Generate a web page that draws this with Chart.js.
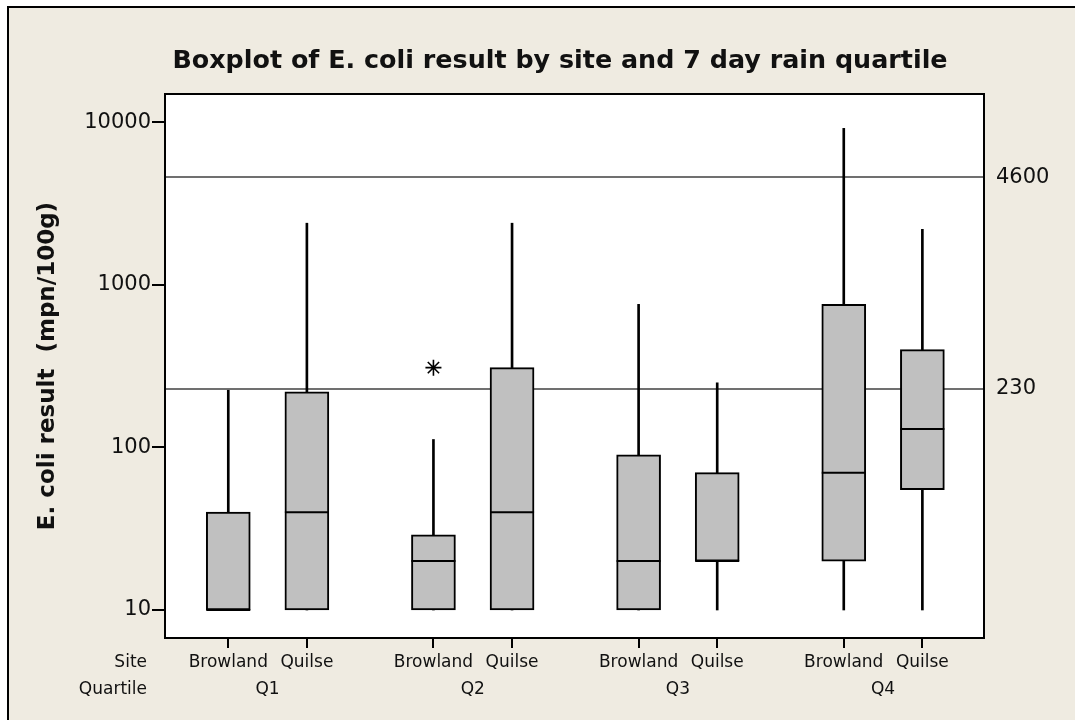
<!DOCTYPE html>
<html>
<head>
<meta charset="utf-8">
<script src="https://cdn.jsdelivr.net/npm/chart.js@4/dist/chart.umd.min.js"></script>
<style>
  html, body { margin: 0; padding: 0; background: #ffffff; }
  #wrap { width: 1075px; height: 720px; position: relative; }
  canvas { display: block; }
</style>
</head>
<body>
<div id="wrap"><canvas id="c" width="1075" height="720"></canvas></div>
<script>
// ---------------- data ----------------
const chartTitle = 'Boxplot of E. coli result by site and 7 day rain quartile';
const yAxisTitle = 'E. coli result  (mpn/100g)';
const quartiles = ['Q1', 'Q2', 'Q3', 'Q4'];
const sites = ['Browland', 'Quilse'];
const rowLabels = ['Site', 'Quartile'];

// one entry per box: Q1 Browland, Q1 Quilse, Q2 Browland, Q2 Quilse, ...
const whiskerLow  = [10, 10, 10, 10, 10, 10, 10, 10];
const quartile1   = [10, 10, 10, 10, 10, 20, 20, 55];
const medians     = [10, 40, 20, 40, 20, 20, 70, 130];
const quartile3   = [40, 220, 29, 310, 90, 70, 760, 400];
const whiskerHigh = [225, 2400, 112, 2400, 760, 250, 9200, 2200];

const outlierBox    = [2];     // index of the box the outlier belongs to
const outlierValues = [310];

const refLines = [4600, 230];
const yTicks = [10, 100, 1000, 10000];

// ---------------- layout constants ----------------
const GROUP_STEP = 2.61;
const X_MIN = 0.195, X_MAX = 10.614;
const Y_MIN = 6.725, Y_MAX = 14970;

const pos = [];
const siteTickLabels = [];
quartiles.forEach((q, g) => sites.forEach((s, i) => { pos.push(1 + g * GROUP_STEP + i); siteTickLabels.push(s); }));
const groupCenters = quartiles.map((q, g) => 1.5 + g * GROUP_STEP);

Chart.defaults.font.family = '"DejaVu Sans", sans-serif';
Chart.defaults.color = '#111';

const FONT_TICK_X = 17;
const X_TICK_LEN = 10, X_PAD = 4.5, X2_PAD = 6;

const decorPlugin = {
  id: 'decor',
  beforeDraw(chart) {
    const ctx = chart.ctx, a = chart.chartArea;
    ctx.save();
    ctx.fillStyle = '#ffffff';
    ctx.fillRect(0, 0, chart.width, chart.height);
    ctx.fillStyle = '#efebe1';
    ctx.fillRect(8, 7, chart.width - 8, chart.height - 7);
    ctx.strokeStyle = '#000';
    ctx.lineWidth = 2;
    ctx.beginPath();
    ctx.moveTo(8, chart.height); ctx.lineTo(8, 7); ctx.lineTo(chart.width, 7);
    ctx.stroke();
    ctx.fillStyle = '#ffffff';
    ctx.fillRect(a.left, a.top, a.right - a.left, a.bottom - a.top);
    ctx.restore();
  },
  afterDraw(chart) {
    const ctx = chart.ctx, a = chart.chartArea;
    ctx.save();
    ctx.strokeStyle = '#000';
    ctx.lineWidth = 2;
    ctx.strokeRect(a.left, a.top, a.right - a.left, a.bottom - a.top);
    // title
    ctx.fillStyle = '#111';
    ctx.font = 'bold 25.4px "DejaVu Sans"';
    ctx.textAlign = 'center';
    ctx.textBaseline = 'alphabetic';
    ctx.fillText(chartTitle, 560, 68);
    // row labels
    ctx.font = FONT_TICK_X + 'px "DejaVu Sans"';
    ctx.textAlign = 'right';
    ctx.textBaseline = 'middle';
    const lh = FONT_TICK_X * 1.2;
    const y1 = a.bottom + X_TICK_LEN + X_PAD + lh / 2;
    const y2 = chart.scales.x2.top + X2_PAD + lh / 2;
    ctx.fillText(rowLabels[0], 147, y1);
    ctx.fillText(rowLabels[1], 147, y2);
    ctx.restore();
  }
};

const datasets = [
  {
    type: 'bar', label: 'upper whisker', xAxisID: 'x', yAxisID: 'y',
    data: pos.map((x, i) => ({ x, y: [quartile3[i], whiskerHigh[i]] })),
    backgroundColor: '#000', borderWidth: 0, barThickness: 2, grouped: false, order: 5
  },
  {
    type: 'bar', label: 'lower whisker', xAxisID: 'x', yAxisID: 'y',
    data: pos.map((x, i) => ({ x, y: [whiskerLow[i], quartile1[i]] })),
    backgroundColor: '#000', borderWidth: 0, barThickness: 2, grouped: false, order: 4
  },
  {
    type: 'bar', label: 'box', xAxisID: 'x', yAxisID: 'y',
    data: pos.map((x, i) => ({ x, y: [quartile1[i], quartile3[i]] })),
    backgroundColor: '#c0c0c0', borderColor: '#000', borderWidth: 2, borderSkipped: false,
    barThickness: 44, grouped: false, order: 3
  },
  {
    type: 'scatter', label: 'median', xAxisID: 'x', yAxisID: 'y',
    data: pos.map((x, i) => ({ x, y: medians[i] })),
    pointStyle: 'line', radius: 22, borderColor: '#000', borderWidth: 2, order: 2
  },
  {
    type: 'scatter', label: 'outlier', xAxisID: 'x', yAxisID: 'y',
    data: outlierBox.map((b, k) => ({ x: pos[b], y: outlierValues[k] })),
    pointStyle: 'star', radius: 8, borderColor: '#000', borderWidth: 1.6, order: 1
  }
];

new Chart(document.getElementById('c'), {
  type: 'bar',
  data: { datasets },
  plugins: [decorPlugin],
  options: {
    responsive: false,
    animation: false,
    devicePixelRatio: 1,
    events: [],
    layout: { padding: { top: 94, left: 0, right: 0, bottom: 0 } },
    plugins: { legend: { display: false }, tooltip: { enabled: false }, title: { display: false } },
    scales: {
      x: {
        type: 'linear', position: 'bottom', min: X_MIN, max: X_MAX, offset: false, bounds: 'data', weight: 0,
        afterBuildTicks: s => { s.ticks = pos.map(v => ({ value: v })); },
        afterFit: s => { s.height = 35; },
        grid: { offset: false, drawOnChartArea: false, drawTicks: true, tickLength: X_TICK_LEN, color: '#000', lineWidth: 2 },
        border: { display: false },
        ticks: { autoSkip: false, maxRotation: 0, minRotation: 0, padding: X_PAD, color: '#111',
                 font: { size: FONT_TICK_X }, callback: (v, i) => siteTickLabels[i] }
      },
      x2: {
        type: 'linear', axis: 'x', position: 'bottom', min: X_MIN, max: X_MAX, offset: false, bounds: 'data', weight: 1,
        afterBuildTicks: s => { s.ticks = groupCenters.map(v => ({ value: v })); },
        afterFit: s => { s.height = 47; },
        grid: { display: true, drawOnChartArea: false, drawTicks: false },
        border: { display: false },
        ticks: { autoSkip: false, maxRotation: 0, minRotation: 0, padding: X2_PAD, color: '#111',
                 font: { size: FONT_TICK_X }, callback: (v, i) => quartiles[i] }
      },
      y: {
        type: 'logarithmic', position: 'left', min: Y_MIN, max: Y_MAX, bounds: 'data', beginAtZero: false,
        afterBuildTicks: s => { s.ticks = yTicks.map(v => ({ value: v })); },
        afterFit: s => { s.width = 165; },
        grid: { drawOnChartArea: false, drawTicks: true, tickLength: 13, color: '#000', lineWidth: 2 },
        border: { display: false },
        ticks: { padding: 1, color: '#111', font: { size: 21 }, callback: v => String(v) },
        title: { display: true, text: yAxisTitle, color: '#111', font: { size: 23, weight: 'bold' },
                 padding: { top: 34, bottom: 0 } }
      },
      yR: {
        type: 'logarithmic', axis: 'y', position: 'right', min: Y_MIN, max: Y_MAX, bounds: 'data', beginAtZero: false,
        afterBuildTicks: s => { s.ticks = refLines.map(v => ({ value: v })); },
        afterFit: s => { s.width = 91; },
        grid: { drawOnChartArea: true, drawTicks: false, color: '#707070', lineWidth: 2 },
        border: { display: false },
        ticks: { padding: 12, color: '#111', font: { size: 21 }, callback: v => String(v) }
      }
    }
  }
});
</script>
</body>
</html>
